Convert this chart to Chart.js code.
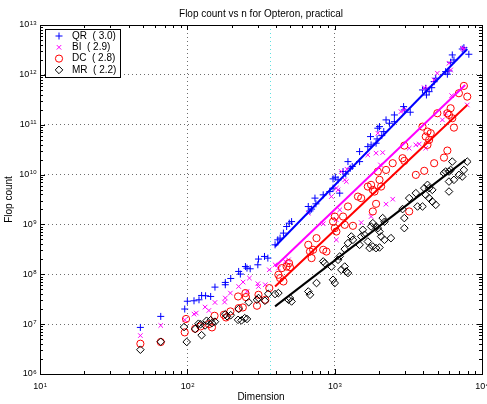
<!DOCTYPE html>
<html>
<head>
<meta charset="utf-8">
<script src="https://cdn.jsdelivr.net/npm/chart.js@4"></script>
<style>
  html, body { margin: 0; padding: 0; background: #fff; }
  canvas { display: block; }
</style>
</head>
<body>
<canvas id="flops" width="487" height="404"></canvas>
<script>
const FONT = '"Liberation Sans", Arial, Helvetica, sans-serif';

// measured flop counts per matrix dimension
const qrN = [48, 66, 96, 100, 111, 120, 125, 133, 144, 154, 181, 181, 197, 223, 229, 248, 254, 267, 301, 304,
  334, 352, 394, 411, 426, 449, 472, 492, 510, 662, 680, 697, 735, 746, 836, 927, 975, 975, 1010, 1054,
  1082, 1140, 1189, 1231, 1276, 1316, 1476, 1476, 1679, 1751, 1767, 1910, 1941, 1963, 2015, 2088, 2153, 2232, 2354, 2543,
  2543, 2937, 2970, 3258, 3945, 4150, 4197, 4377, 4557, 4734, 4853, 5665, 5820, 5970, 6124, 6285, 6450, 7345, 7535, 8140];
const qrFlops = [8.6e6, 1.43e7, 2.01e7, 2.88e7, 2.94e7, 3.08e7, 3.76e7, 3.71e7, 3.59e7, 5.53e7, 6.17e7, 6.86e7, 8.24e7, 1.14e8, 1.01e8, 1.43e8, 1.33e8, 1.29e8, 1.55e8, 2.02e8,
  2.28e8, 2.11e8, 3.9e8, 4.91e8, 5.31e8, 6.7e8, 9.08e8, 1.06e9, 1.14e9, 2.29e9, 1.87e9, 2.03e9, 3.37e9, 2.59e9, 3.92e9, 4.56e9, 5.34e9, 8.2e9, 8.87e9, 7.84e9,
  4.24e9, 1.15e10, 1.03e10, 1.82e10, 1.34e10, 1.45e10, 2.89e10, 1.82e10, 3.64e10, 5.78e10, 3.93e10, 4.26e10, 5.19e10, 8.51e10, 9.16e10, 6.05e10, 7.28e10, 1.25e11, 1.07e11, 1.57e11,
  1.15e11, 2.31e11, 1.98e11, 1.78e11, 4.98e11, 5.38e11, 3.95e11, 4.6e11, 5.53e11, 7.31e11, 8.55e11, 1.16e12, 1.03e12, 1.2e12, 1.79e12, 2.51e12, 1.99e12, 3.3e12, 3.51e12, 2.59e12];

const biN = [48, 66, 96, 111, 115, 132, 140, 154, 181, 179, 196, 223, 239, 254, 264, 301, 304, 338, 360, 394,
  415, 462, 486, 662, 836, 950, 1027, 1027, 1027, 1054, 1082, 1170, 1110, 1200, 1213, 1514, 1679, 1910, 2118, 2045,
  1963, 1767, 2232, 2477, 2820, 2970, 3205, 3556, 3750, 4150, 4055, 4266, 4734, 4977, 5385, 5665, 5970, 6124, 6222, 7345,
  7535, 7943];
const biFlops = [5.9e6, 9.4e6, 1.22e7, 1.59e7, 1.67e7, 2.2e7, 1.88e7, 2.72e7, 3.34e7, 2.77e7, 4.2e7, 5.7e7, 6.98e7, 4.52e7, 8.4e7, 6.46e7, 5.7e7, 6.17e7, 1.23e8, 1.55e8,
  1.33e8, 1.81e8, 1.95e8, 1.68e9, 1.03e9, 3.62e9, 4.9e8, 5.34e9, 1.24e9, 4.93e9, 1.96e9, 7.84e9, 1.15e10, 7.24e9, 1.28e10, 1.09e9, 2.48e10, 2.69e10, 2.76e10, 1.56e10,
  6.76e10, 1.44e9, 2.55e9, 3.21e9, 1.83e11, 1.98e11, 3.38e10, 3.94e10, 4.1e10, 3.38e10, 5.53e11, 5.38e11, 7.9e11, 1.08e12, 1.25e11, 1.7e11, 1.71e12, 1.25e12, 3.83e11, 3.41e12,
  3.3e12, 2.49e11];

const dcN = [48, 66, 98, 96, 113, 123, 140, 147, 153, 177, 183, 196, 223, 221, 238, 248, 250, 297, 304, 338,
  360, 415, 426, 438, 449, 472, 490, 497, 662, 680, 697, 714, 753, 836, 879, 975, 1002, 1002, 1027, 1140,
  1170, 1231, 1330, 1439, 1514, 1679, 1767, 1815, 1864, 1963, 2015, 2066, 2232, 2477, 2970, 2890, 2970, 1910, 1815, 3556,
  3205, 4055, 4734, 5520, 5820, 3945, 4150, 4266, 4377, 4487, 4266, 4977, 5820, 5970, 6124, 6285, 6450, 6970, 7535, 7943];
const dcFlops = [4.05e6, 4.38e6, 1.27e7, 6.83e6, 8.09e6, 9.0e6, 1.0e7, 8.6e6, 1.47e7, 1.54e7, 1.36e7, 1.8e7, 2.1e7, 3.59e7, 2.16e7, 4.2e7, 3.49e7, 2.34e7, 3.88e7, 3.08e7,
  5.29e7, 9.77e7, 8.4e7, 1.33e8, 7.18e7, 1.43e8, 1.67e8, 1.39e8, 3.9e8, 2.86e8, 2.11e8, 3.1e8, 5.31e8, 3.1e8, 2.86e8, 1.14e9, 1.44e9, 8.43e8, 7.21e8, 1.44e9,
  9.82e8, 2.29e9, 9.38e8, 3.62e9, 3.37e9, 5.75e9, 6.22e9, 4.93e9, 4.56e9, 1.15e10, 7.84e9, 5.75e9, 1.24e10, 1.69e10, 3.81e10, 2.13e10, 1.88e10, 2.59e9, 1.82e9, 9.86e9,
  1.82e9, 1.19e10, 1.69e10, 2.19e10, 3.03e10, 9.16e10, 5.78e10, 7.28e10, 4.95e10, 6.76e10, 3.94e10, 1.7e11, 1.7e11, 1.57e11, 2.14e11, 1.35e11, 8.75e10, 4.28e11, 6.0e11, 3.66e11];

const mrN = [48, 66, 95, 99, 113, 119, 123, 125, 132, 135, 144, 147, 154, 181, 186, 197, 223, 221, 233, 245,
  254, 261, 297, 304, 336, 354, 394, 415, 486, 497, 510, 662, 680, 753, 836, 857, 950, 975, 1002, 1054,
  1082, 1110, 1170, 1200, 1231, 1170, 1231, 1330, 1297, 1476, 1514, 1552, 1595, 1679, 1725, 1815, 1767, 1815, 1910, 1963,
  2015, 2066, 1910, 2015, 2118, 2178, 2178, 2410, 2890, 2970, 2970, 3205, 3556, 3650, 4055, 4150, 4266, 4377, 3945, 4600,
  4377, 4600, 4853, 5520, 5665, 5970, 6124, 6285, 5970, 6450, 5970, 6970, 7345, 7535, 7943];
const mrFlops = [3.07e6, 4.44e6, 8.75e6, 4.4e6, 7.98e6, 1.02e7, 9.96e6, 6.0e6, 9.42e6, 1.17e7, 1.2e7, 1.05e7, 1.12e7, 1.58e7, 1.44e7, 1.51e7, 2.01e7, 1.22e7, 1.19e7, 1.32e7,
  1.27e7, 2.75e7, 3.08e7, 3.34e7, 2.94e7, 4.06e7, 4.01e7, 4.2e7, 3.08e7, 3.34e7, 2.85e7, 4.52e7, 3.88e7, 6.67e7, 1.81e8, 1.67e8, 1.43e8, 7.76e7, 6.67e7, 1.95e8,
  2.28e8, 1.23e8, 1.43e8, 1.14e8, 1.06e8, 3.2e8, 4.22e8, 4.91e8, 5.73e8, 3.9e8, 5.73e8, 7.8e8, 6.2e8, 4.54e8, 3.35e8, 3.61e8, 9.08e8, 1.06e9, 9.08e8, 8.43e8,
  7.21e8, 5.73e8, 3.35e8, 3.45e8, 1.34e9, 1.13e9, 4.91e8, 5.31e8, 2.03e9, 1.34e9, 8.43e8, 3.37e9, 4.24e9, 2.29e9, 5.34e9, 3.92e9, 6.22e9, 5.34e9, 2.29e9, 4.93e9,
  3.37e9, 2.88e9, 2.47e9, 1.07e10, 1.15e10, 1.15e10, 1.24e10, 1.82e10, 7.24e9, 7.84e9, 4.57e9, 9.86e9, 9.12e9, 1.24e10, 1.82e10];

// least-squares fits over the large-n range (end points of each line)
const qrFitN = [394, 7943];
const qrFit = [3.6e8, 3.31e12];
const biFitN = [394, 7690];
const biFit = [1.43e8, 6.28e11];
const dcFitN = [394, 7943];
const dcFit = [5.7e7, 2.49e11];
const mrFitN = [394, 7730];
const mrFit = [2.27e7, 1.97e10];

const cutoffN = 365;
const legendLabels = ['QR  ( 3.0)', 'BI  ( 2.9)', 'DC  ( 2.8)', 'MR  ( 2.2)'];
const xDecades = [1, 2, 3, 4];
const yDecades = [6, 7, 8, 9, 10, 11, 12, 13];

const pts = (xs, ys) => xs.map((x, i) => ({ x, y: ys[i] }));

const series = [
  { label: legendLabels[0], n: qrN, f: qrFlops, fn: qrFitN, fv: qrFit, color: '#0000ff', style: 'cross', r: 3.5, order: 4 },
  { label: legendLabels[1], n: biN, f: biFlops, fn: biFitN, fv: biFit, color: '#ff00ff', style: 'crossRot', r: 3.2, order: 3 },
  { label: legendLabels[2], n: dcN, f: dcFlops, fn: dcFitN, fv: dcFit, color: '#ff0000', style: 'circle', r: 3.6, order: 2 },
  { label: legendLabels[3], n: mrN, f: mrFlops, fn: mrFitN, fv: mrFit, color: '#000000', style: 'rectRot', r: 3.8, order: 1 }
];

const datasets = [];
series.forEach(s => {
  datasets.push({
    label: s.label,
    data: pts(s.n, s.f),
    pointStyle: s.style,
    pointRadius: s.r,
    borderColor: s.color,
    backgroundColor: 'rgba(0,0,0,0)',
    pointBorderWidth: 1,
    showLine: false,
    order: s.order
  });
});
series.forEach(s => {
  datasets.push({
    label: s.label + ' fit',
    data: pts(s.fn, s.fv),
    showLine: true,
    borderColor: s.color,
    borderWidth: 2,
    pointRadius: 0,
    order: 0
  });
});

const isDecade = v => Math.abs(Math.log10(v) - Math.round(Math.log10(v))) < 1e-9;

const gridOpts = {
  color: c => (c.tick && isDecade(c.tick.value)) ? '#6e6e6e' : 'rgba(0,0,0,0)',
  drawTicks: false,
  lineWidth: 1
};

function powLabel(ctx, base, exp, x, y, align) {
  ctx.font = '9px ' + FONT;
  const wb = ctx.measureText(base).width;
  ctx.font = '6px ' + FONT;
  const we = ctx.measureText(exp).width;
  const left = align === 'right' ? x - wb - we : x - (wb + we) / 2;
  ctx.font = '9px ' + FONT;
  ctx.textAlign = 'left';
  ctx.textBaseline = 'middle';
  ctx.fillText(base, left, y);
  ctx.font = '6px ' + FONT;
  ctx.textBaseline = 'alphabetic';
  ctx.fillText(exp, left + wb + 0.5, y - 0.5);
}

const axesFrame = {
  id: 'axesFrame',
  beforeDatasetsDraw(chart) {
    const { ctx, chartArea: a, scales: { x } } = chart;
    const px = Math.round(x.getPixelForValue(cutoffN)) + 0.5;
    ctx.save();
    ctx.strokeStyle = '#5fe0e0';
    ctx.lineWidth = 1;
    ctx.setLineDash([1, 3]);
    ctx.beginPath();
    ctx.moveTo(px, a.top);
    ctx.lineTo(px, a.bottom);
    ctx.stroke();
    ctx.restore();
  },
  afterDraw(chart) {
    const { ctx, chartArea: a, scales: { x, y } } = chart;
    ctx.save();
    ctx.strokeStyle = '#000';
    ctx.fillStyle = '#000';
    ctx.lineWidth = 1;

    // inward ticks on all four sides
    ctx.beginPath();
    for (let k = xDecades[0]; k < xDecades[xDecades.length - 1]; k++) {
      for (let m = 1; m <= 9; m++) {
        const px = Math.round(x.getPixelForValue(m * Math.pow(10, k))) + 0.5;
        const len = m === 1 ? 5 : 3;
        ctx.moveTo(px, a.bottom); ctx.lineTo(px, a.bottom - len);
        ctx.moveTo(px, a.top); ctx.lineTo(px, a.top + len);
      }
    }
    for (let k = yDecades[0]; k < yDecades[yDecades.length - 1]; k++) {
      for (let m = 1; m <= 9; m++) {
        const py = Math.round(y.getPixelForValue(m * Math.pow(10, k))) + 0.5;
        const len = m === 1 ? 5 : 3;
        ctx.moveTo(a.left, py); ctx.lineTo(a.left + len, py);
        ctx.moveTo(a.right, py); ctx.lineTo(a.right - len, py);
      }
    }
    ctx.stroke();

    ctx.strokeRect(Math.round(a.left) + 0.5, Math.round(a.top) + 0.5,
      Math.round(a.right - a.left), Math.round(a.bottom - a.top));

    // decade labels
    xDecades.forEach(k => powLabel(ctx, '10', String(k), x.getPixelForValue(Math.pow(10, k)), a.bottom + 13, 'center'));
    yDecades.forEach(k => powLabel(ctx, '10', String(k), a.left - 4, y.getPixelForValue(Math.pow(10, k)), 'right'));

    // titles
    ctx.font = '10px ' + FONT;
    ctx.textAlign = 'center';
    ctx.textBaseline = 'middle';
    ctx.fillText('Flop count vs n for Opteron, practical', (a.left + a.right) / 2, 14);
    ctx.fillText('Dimension', (a.left + a.right) / 2, 397);
    ctx.save();
    ctx.translate(9, (a.top + a.bottom) / 2);
    ctx.rotate(-Math.PI / 2);
    ctx.fillText('Flop count', 0, 0);
    ctx.restore();

    // legend box
    const bx = 45.5, by = 29.5, bw = 75, bh = 48;
    ctx.fillStyle = '#fff';
    ctx.fillRect(bx, by, bw, bh);
    ctx.strokeStyle = '#000';
    ctx.strokeRect(bx, by, bw, bh);
    series.forEach((s, i) => {
      const cy = 36 + i * 11.3;
      const cx = 59;
      ctx.strokeStyle = s.color;
      ctx.lineWidth = 1;
      ctx.beginPath();
      if (s.style === 'cross') {
        ctx.moveTo(cx - s.r, cy); ctx.lineTo(cx + s.r, cy);
        ctx.moveTo(cx, cy - s.r); ctx.lineTo(cx, cy + s.r);
      } else if (s.style === 'crossRot') {
        const d = s.r * 0.7071;
        ctx.moveTo(cx - d, cy - d); ctx.lineTo(cx + d, cy + d);
        ctx.moveTo(cx + d, cy - d); ctx.lineTo(cx - d, cy + d);
      } else if (s.style === 'circle') {
        ctx.arc(cx, cy, s.r, 0, Math.PI * 2);
      } else {
        ctx.moveTo(cx, cy - s.r); ctx.lineTo(cx + s.r, cy);
        ctx.lineTo(cx, cy + s.r); ctx.lineTo(cx - s.r, cy);
        ctx.closePath();
      }
      ctx.stroke();
      ctx.fillStyle = '#000';
      ctx.font = '10px ' + FONT;
      ctx.textAlign = 'left';
      ctx.textBaseline = 'middle';
      ctx.fillText(s.label, 72, cy);
    });
    ctx.restore();
  }
};

new Chart(document.getElementById('flops'), {
  type: 'scatter',
  data: { datasets },
  options: {
    responsive: false,
    animation: false,
    devicePixelRatio: 1,
    layout: { padding: { left: 40, top: 25, right: 3, bottom: 30 } },
    plugins: { legend: { display: false }, tooltip: { enabled: false } },
    scales: {
      x: {
        type: 'logarithmic',
        min: 10,
        max: 10000,
        ticks: { display: false, autoSkip: false },
        grid: gridOpts,
        border: { display: false, dash: [1, 3] }
      },
      y: {
        type: 'logarithmic',
        min: 1e6,
        max: 1e13,
        ticks: { display: false, autoSkip: false },
        grid: gridOpts,
        border: { display: false, dash: [1, 3] }
      }
    }
  },
  plugins: [axesFrame]
});
</script>
</body>
</html>
